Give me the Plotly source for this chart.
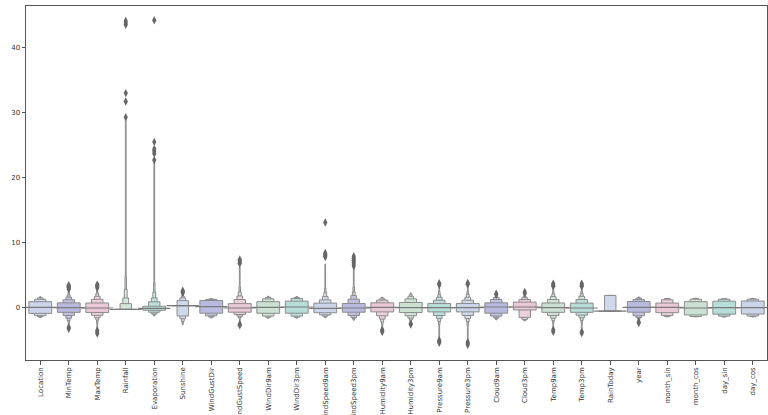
import plotly.graph_objects as go

names = ["Location", "MinTemp", "MaxTemp", "Rainfall", "Evaporation", "Sunshine",
         "WindGustDir", "WindGustSpeed", "WindDir9am", "WindDir3pm", "WindSpeed9am",
         "WindSpeed3pm", "Humidity9am", "Humidity3pm", "Pressure9am", "Pressure3pm",
         "Cloud9am", "Cloud3pm", "Temp9am", "Temp3pm", "RainToday", "year",
         "month_sin", "month_cos", "day_sin", "day_cos"]

medians = [0.05, 0.0, -0.05, -0.28, -0.12, 0.3, 0.15, -0.05, 0.05, 0.1, -0.1, -0.05,
           0.05, 0.0, 0.0, 0.0, 0.1, 0.1, 0.0, -0.05, -0.53, 0.05, 0.05, -0.05, 0.0, 0.02]

# letter values: [quartile, eighth, sixteenth, 32nd, 64th, extreme]
upper_levels = [
    [0.92, 1.28, 1.48, 1.58, 1.64, 1.70],
    [0.74, 1.22, 1.62, 1.98, 2.35, 2.75],
    [0.72, 1.28, 1.75, 2.15, 2.55, 2.95],
    [-0.22, 0.62, 1.5, 2.8, 4.8, 29.0],
    [0.22, 0.9, 1.5, 2.4, 3.8, 22.5],
    [0.32, 1.08, 1.5, 1.8, 2.0, 2.2],
    [1.1, 1.25, 1.32, 1.36, 1.38, 1.4],
    [0.62, 1.25, 1.8, 2.4, 3.2, 6.3],
    [0.92, 1.35, 1.55, 1.65, 1.72, 1.78],
    [1.0, 1.4, 1.55, 1.62, 1.68, 1.72],
    [0.7, 1.2, 1.7, 2.3, 3.0, 6.7],
    [0.65, 1.3, 1.85, 2.4, 3.2, 6.2],
    [0.75, 1.15, 1.35, 1.5, 1.58, 1.62],
    [0.8, 1.35, 1.75, 2.0, 2.15, 2.3],
    [0.65, 1.15, 1.6, 2.0, 2.5, 3.3],
    [0.65, 1.15, 1.6, 2.05, 2.55, 3.4],
    [0.75, 1.25, 1.55, 1.7, 1.78, 1.85],
    [0.85, 1.25, 1.55, 1.75, 1.9, 2.0],
    [0.72, 1.25, 1.7, 2.1, 2.5, 3.0],
    [0.7, 1.25, 1.75, 2.15, 2.55, 3.0],
    [-0.53, 1.88, 1.88, 1.88, 1.88, 1.88],
    [0.95, 1.25, 1.45, 1.55, 1.6, 1.65],
    [0.71, 1.22, 1.41, 1.41, 1.41, 1.41],
    [0.92, 1.3, 1.42, 1.42, 1.42, 1.42],
    [1.0, 1.3, 1.38, 1.40, 1.41, 1.42],
    [1.02, 1.3, 1.38, 1.40, 1.41, 1.43],
]

lower_levels = [
    [-0.88, -1.22, -1.38, -1.46, -1.52, -1.56],
    [-0.72, -1.2, -1.62, -1.98, -2.35, -2.85],
    [-0.74, -1.18, -1.55, -1.9, -2.3, -3.3],
    [-0.28, -0.28, -0.28, -0.28, -0.28, -0.28],
    [-0.4, -0.7, -0.95, -1.1, -1.2, -1.3],
    [0.28, -1.28, -1.7, -2.1, -2.35, -2.65],
    [-0.85, -1.25, -1.42, -1.5, -1.55, -1.6],
    [-0.7, -1.05, -1.3, -1.5, -1.7, -2.1],
    [-0.86, -1.3, -1.45, -1.55, -1.6, -1.65],
    [-0.85, -1.3, -1.45, -1.52, -1.57, -1.62],
    [-0.78, -1.1, -1.3, -1.45, -1.5, -1.55],
    [-0.7, -1.2, -1.5, -1.7, -1.85, -1.95],
    [-0.65, -1.25, -1.75, -2.2, -2.6, -3.2],
    [-0.75, -1.25, -1.6, -1.9, -2.1, -2.3],
    [-0.65, -1.2, -1.65, -2.1, -2.6, -4.8],
    [-0.65, -1.2, -1.7, -2.15, -2.7, -5.0],
    [-0.85, -1.3, -1.55, -1.7, -1.8, -1.9],
    [-0.35, -1.5, -1.8, -1.95, -2.0, -2.05],
    [-0.72, -1.2, -1.6, -2.0, -2.4, -3.0],
    [-0.72, -1.15, -1.55, -1.95, -2.4, -3.3],
    [-0.53, -0.53, -0.53, -0.53, -0.53, -0.53],
    [-0.7, -1.25, -1.5, -1.7, -1.85, -2.0],
    [-0.77, -1.22, -1.38, -1.38, -1.38, -1.38],
    [-1.12, -1.35, -1.38, -1.38, -1.38, -1.38],
    [-1.0, -1.3, -1.38, -1.40, -1.41, -1.42],
    [-0.98, -1.28, -1.37, -1.39, -1.40, -1.41],
]

outliers = [
    [],
    [2.85, 3.0, 3.15, 3.3, 3.45, -3.0, -3.25],
    [3.05, 3.2, 3.4, 3.55, -3.5, -3.75, -4.0],
    [29.3, 31.7, 33.0, 43.5, 43.8, 44.1],
    [22.7, 23.7, 24.1, 24.4, 25.5, 44.2],
    [2.3, 2.45, 2.6],
    [],
    [6.8, 7.0, 7.2, 7.4, -2.5, -2.7],
    [],
    [],
    [7.8, 8.0, 8.2, 8.4, 13.1],
    [6.4, 6.7, 7.0, 7.3, 7.6, 7.9],
    [-3.4, -3.6, -3.7],
    [-2.45, -2.6],
    [3.5, 3.75, -5.0, -5.2, -5.4],
    [3.6, 3.8, -5.3, -5.5, -5.7],
    [2.0, 2.15],
    [2.2, 2.4],
    [3.3, 3.5, 3.7, -3.4, -3.7],
    [3.3, 3.5, 3.7, -3.7, -3.9],
    [],
    [-2.2, -2.35],
    [],
    [],
    [],
    [],
]

palette = ["#cad5ea", "#b9badf", "#eac8d8", "#cbe2d3", "#b6ddd8"]
edge = "#8c8c8c"


def lighten(hex_color, t):
    r, g, b = (int(hex_color[k:k + 2], 16) for k in (1, 3, 5))
    r, g, b = (round(c + (255 - c) * t) for c in (r, g, b))
    return f"#{r:02x}{g:02x}{b:02x}"


n = len(names)
n_levels = len(upper_levels[0])
fig = go.Figure()

for j in reversed(range(n_levels)):
    fig.add_trace(go.Bar(
        x=names,
        base=[lower_levels[i][j] for i in range(n)],
        y=[upper_levels[i][j] - lower_levels[i][j] for i in range(n)],
        width=0.8 * 0.5 ** j,
        marker=dict(color=[lighten(palette[i % 5], 0.1 * j) for i in range(n)],
                    line=dict(color=edge, width=1)),
        hoverinfo="skip", showlegend=False,
    ))

fig.add_trace(go.Scatter(
    x=names, y=medians, mode="markers",
    marker=dict(symbol="line-ew", size=23, line=dict(color="#7a7a7a", width=1.2)),
    hoverinfo="skip", showlegend=False,
))

ox, oy = [], []
for i, vals in enumerate(outliers):
    for v in vals:
        ox.append(names[i])
        oy.append(v)
fig.add_trace(go.Scatter(
    x=ox, y=oy, mode="markers",
    marker=dict(symbol="diamond-tall", size=6, color="#666666"),
    hoverinfo="skip", showlegend=False,
))

axis_common = dict(showline=True, mirror=True, linecolor="#555555", linewidth=1,
                   ticks="outside", ticklen=3.5, tickcolor="#555555", showgrid=False,
                   zeroline=False, automargin=False,
                   tickfont=dict(family="DejaVu Sans", size=7, color="#333333"))

fig.update_layout(
    width=768, height=415,
    margin=dict(l=26, r=1, t=6, b=55),
    plot_bgcolor="white", paper_bgcolor="white",
    barmode="overlay",
    xaxis=dict(range=[-0.5, n - 0.5], tickangle=-90, **axis_common),
    yaxis=dict(range=[-8.05, 46.4], tickvals=[0, 10, 20, 30, 40], **axis_common),
)

fig.write_html(
    "out.html",
    config={"displayModeBar": False},
    post_script="document.body.style.margin='0';document.body.style.overflow='hidden';",
)
